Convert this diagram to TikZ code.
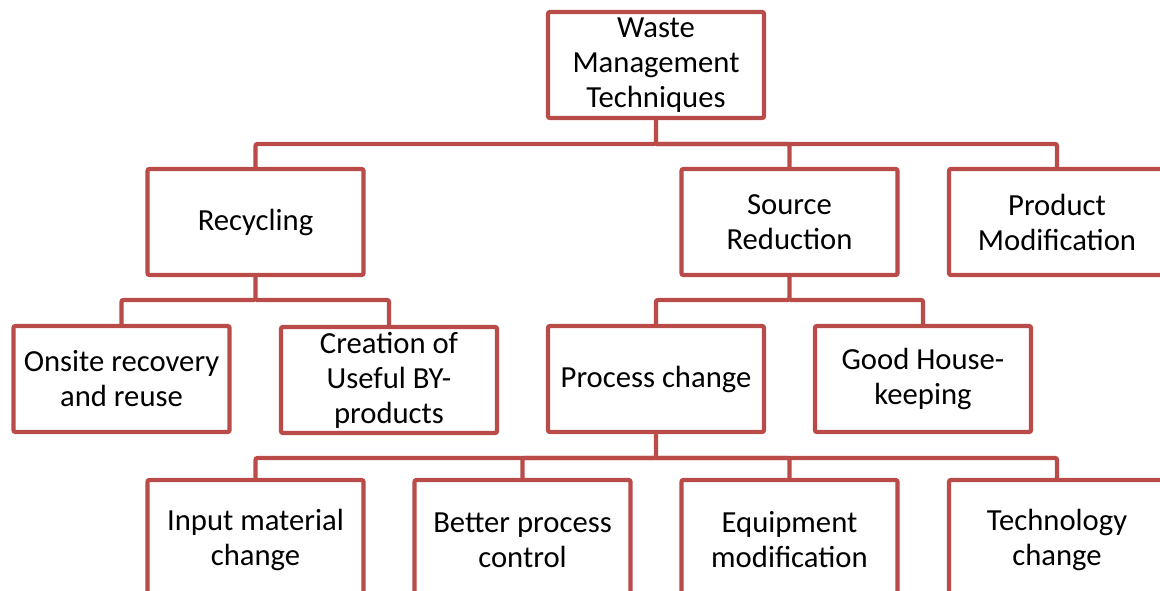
\documentclass[tikz,border=0pt]{standalone}
\usepackage{fontspec}
\setmainfont{Carlito}
\usepackage{tikz}
\definecolor{boxred}{RGB}{185,76,73}

\begin{document}
\begin{tikzpicture}[x=0.75pt,y=-0.75pt,
	box/.style={draw=boxred,line width=3.2pt,fill=white,rounded corners=1.5pt,
		minimum width=162pt,minimum height=79.5pt,align=center,inner sep=2pt,
		font=\fontsize{23}{26.25}\selectfont},
	lowbox/.style={box,minimum height=90pt},
	link/.style={draw=boxred,line width=3.2pt,rounded corners=1.5pt}]
	\clip (0,0) rectangle (1160,591);
	\node[box] (0) at (656,65) {Waste\\Management\\Techniques};
	\node[box] (1) at (255.5,222) {Recycling};
	\node[box] (2) at (789.5,222) {Source\\Reduction};
	\node[box] (3) at (1057,222) {Product\\Modification};
	\node[box] (4) at (121.5,379) {Onsite recovery\\and reuse};
	\node[box] (5) at (389,380) {Creation of\\Useful BY-\\products};
	\node[box] (6) at (656,379) {Process change};
	\node[box] (7) at (923,379) {Good House-\\keeping};
	\node[lowbox] (8) at (255.5,540) {Input material\\change};
	\node[lowbox] (9) at (522.5,540) {Better process\\control};
	\node[lowbox] (10) at (789.5,540) {Equipment\\modification};
	\node[lowbox] (11) at (1057,540) {Technology\\change};
	\coordinate (a) at (656,144);
	\coordinate (b) at (255.5,300);
	\coordinate (c) at (789.5,300);
	\coordinate (d) at (656,458);
	\draw[link](0.south)--(a) -| (1.north);
	\draw[link](a) -| (2.north);
	\draw[link](a) -| (3.north);
	\draw[link](1.south)--(b) -| (4.north);
	\draw[link](b) -| (5.north);
	\draw[link](2.south)--(c) -| (6.north);
	\draw[link](c) -| (7.north);
	\draw[link](6.south)--(d) -| (8.north);
	\draw[link](d) -| (9.north);
	\draw[link](d) -| (10.north);
	\draw[link](d) -| (11.north);
	\end{tikzpicture}
\end{document}
